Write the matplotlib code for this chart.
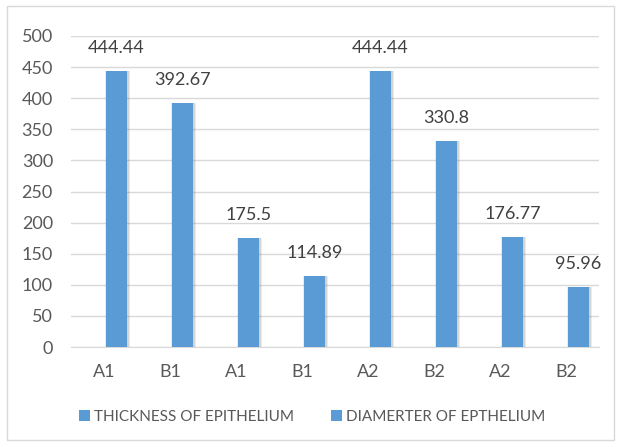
import numpy as np
import matplotlib.pyplot as plt
from matplotlib.patches import Rectangle

# Chart data
categories = ["A1", "B1", "A1", "B1", "A2", "B2", "A2", "B2"]
thickness = [444.44, 392.67, 175.5, 114.89]
diameter = [444.44, 330.8, 176.77, 95.96]
series_names = ["THICKNESS OF EPITHELIUM", "DIAMERTER OF EPTHELIUM"]
yticks = [0, 50, 100, 150, 200, 250, 300, 350, 400, 450, 500]

bar_color = "#5B9BD5"
text_color = "#595959"
grid_color = "#D9D9D9"

plt.rcParams['font.family'] = ['Lato', 'DejaVu Sans']

fig = plt.figure(figsize=(6.21, 4.47), dpi=100)
ax = fig.add_axes([71 / 621, 1 - 347 / 447, 528 / 621, 311 / 447])

x = np.arange(len(categories))
# bars sit in the right-hand slot of each category (clustered layout)
offset = 0.19
width = 0.32
xb = x + offset
xb_thick = xb[:len(thickness)]
xb_diam = xb[len(thickness):]

# soft shadow behind bars
all_vals = thickness + diameter
for shift, alpha in [(0.07, 0.15), (0.04, 0.22)]:
    ax.bar(xb + 0.015, all_vals, width=width + shift, color="#808080", alpha=alpha,
           linewidth=0, zorder=2)

b1 = ax.bar(xb_thick, thickness, width=width, color=bar_color, zorder=3,
            label=series_names[0])
b2 = ax.bar(xb_diam, diameter, width=width, color=bar_color, zorder=3,
            label=series_names[1])

for xi, v in zip(xb, all_vals):
    ax.text(xi, v + 24, f"{v:g}", ha="center", va="bottom", fontsize=13,
            color="#404040")

ax.set_ylim(0, 500)
ax.set_xlim(-0.5, len(categories) - 0.5)
ax.set_yticks(yticks)
ax.set_xticks(x)
ax.set_xticklabels(categories)
ax.tick_params(axis="both", length=0, labelsize=13, colors=text_color)
ax.tick_params(axis="x", pad=12)
ax.tick_params(axis="y", pad=13)
ax.grid(axis="y", color=grid_color, linewidth=1, zorder=0)
for s in ["top", "right", "left"]:
    ax.spines[s].set_visible(False)
ax.spines["bottom"].set_color(grid_color)

leg = fig.legend(handles=[b1, b2], loc="center", bbox_to_anchor=(0.503, 1 - 417 / 447),
                 ncol=2, frameon=False, fontsize=11, handlelength=0.7,
                 handleheight=0.7, handletextpad=0.3, columnspacing=2.4)
for t in leg.get_texts():
    t.set_color(text_color)

# outer chart border
fig.patches.append(Rectangle((7 / 621, 1 - 440 / 447), 607 / 621, 434 / 447,
                             transform=fig.transFigure, fill=False,
                             edgecolor=grid_color, linewidth=1))

fig.savefig("out.png", dpi=100)
